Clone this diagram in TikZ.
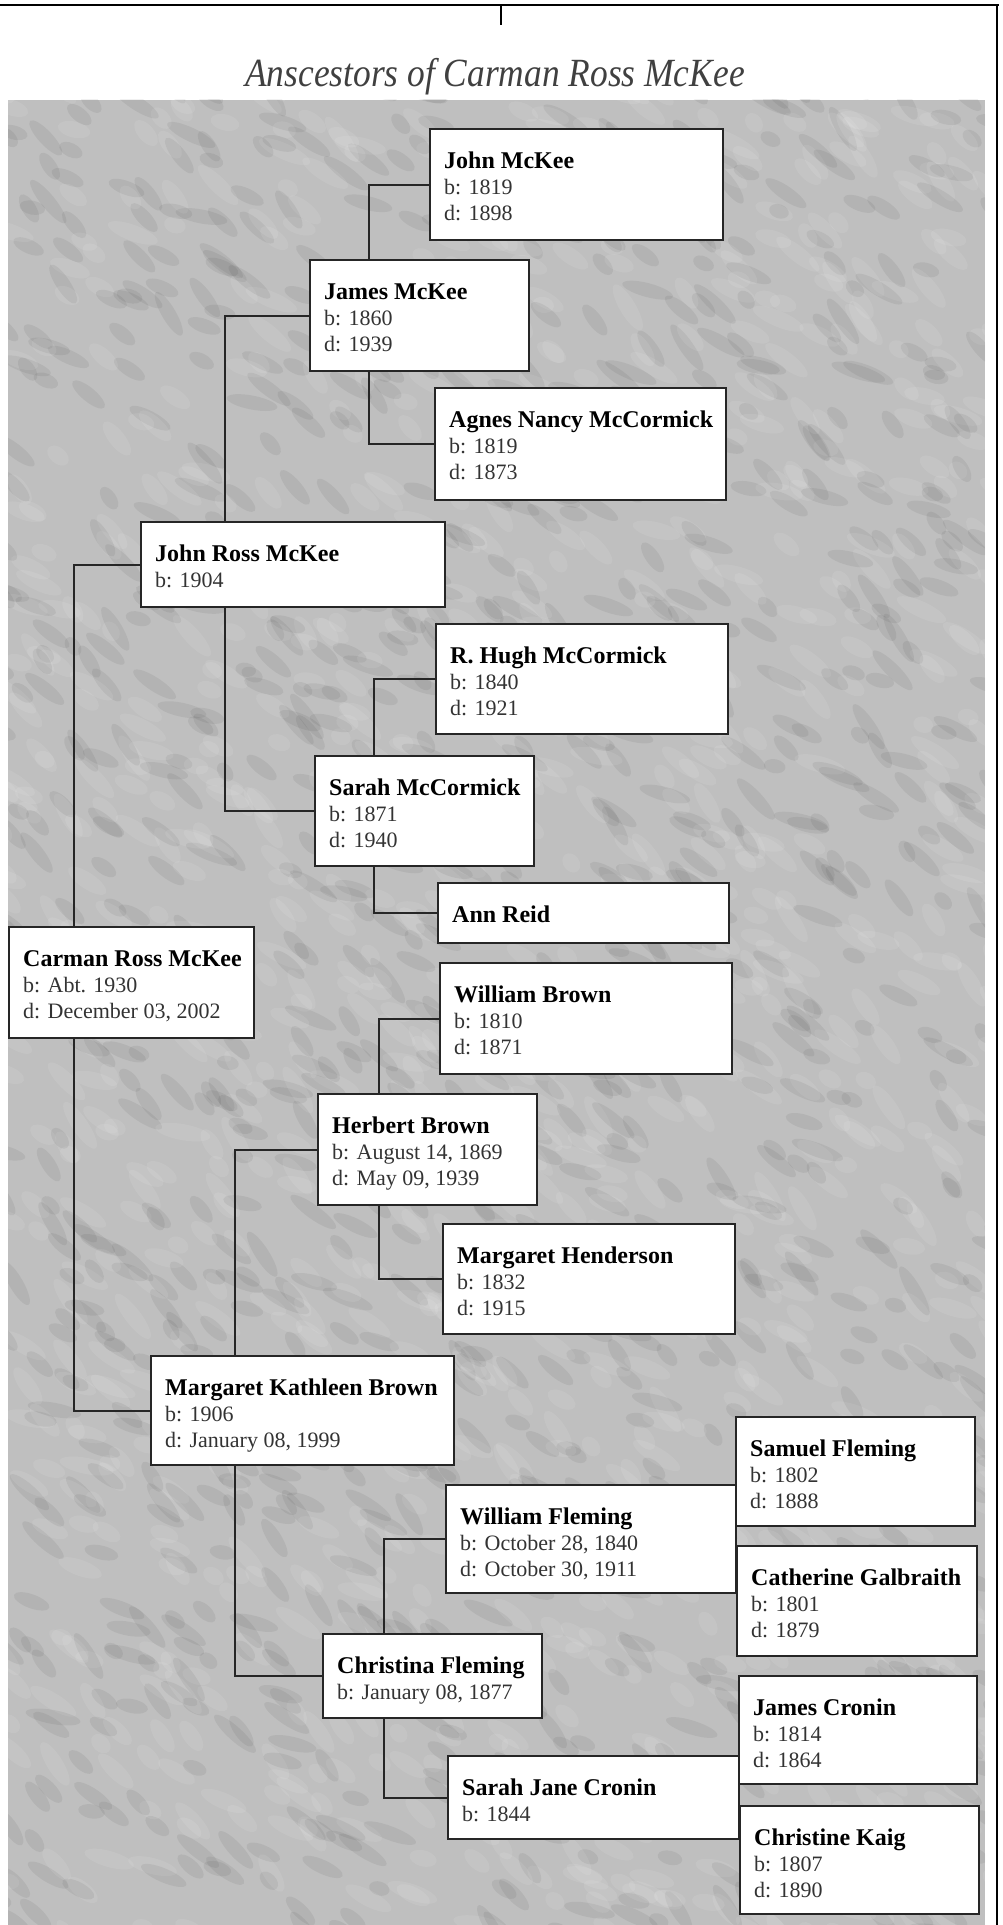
\documentclass[tikz,border=0pt]{standalone}
\usepackage{fontspec}
\setmainfont{Liberation Serif}
\usepackage{tikz}

\newcommand{\card}[4]{%
  \parbox[t][\dimexpr#2pt/2\relax][t]{\dimexpr#1pt/2\relax}{%
    \leftskip=7pt\fontsize{11pt}{13pt}\selectfont\leavevmode\color{black!80}%
    \rule{0pt}{19.5pt}{\fontsize{12pt}{13pt}\selectfont\bfseries\color{black}#3}#4}}

\begin{document}
\begin{tikzpicture}[x=0.5pt,y=-0.5pt,
    person/.style={draw=black!85, line width=1.2pt, fill=white, anchor=north west, inner sep=0pt},
    link/.style={draw=black!85, line width=1.1pt}]
    \useasboundingbox (0,0) rectangle (1002,1925);

    \begin{scope}
        \clip (8,100) rectangle (985,1925);
        \fill[gray!50] (8,100) rectangle (985,1925);
        \pgfmathsetseed{4}
        \foreach \k in {1,...,1100}{
            \pgfmathsetmacro{\bx}{rnd*1000}
            \pgfmathsetmacro{\by}{80+rnd*1870}
            \pgfmathsetmacro{\bw}{10+rnd*18}
            \pgfmathsetmacro{\ba}{-35+rand*25}
            \fill[black, opacity=0.06, rotate around={\ba:(\bx,\by)}] (\bx,\by) ellipse [x radius=\bw, y radius=7];
            \pgfmathsetmacro{\cx}{rnd*1000}
            \pgfmathsetmacro{\cy}{80+rnd*1870}
            \fill[white, opacity=0.09, rotate around={\ba:(\cx,\cy)}] (\cx,\cy) ellipse [x radius=\bw, y radius=8];
        }
    \end{scope}

    \draw[line width=1pt] (0,5) -- (999,5);
    \draw[line width=1pt] (997,5) -- (997,1925);
    \draw[line width=0.8pt] (501,5) -- (501,25);

    \node[font=\fontsize{20pt}{24pt}\selectfont\itshape, text=black!75, anchor=base] (title) at (495,87) {\scalebox{0.885}[1]{Anscestors of Carman Ross McKee}};

    \node[person] (jmckee) at (429,128) {\card{293}{111}{John McKee}{\\b: 1819\\d: 1898}};
    \node[person] (jamesmckee) at (309,259) {\card{219}{111}{James McKee}{\\b: 1860\\d: 1939}};
    \node[person] (agnes) at (434,387) {\card{291}{112}{Agnes Nancy McCormick}{\\b: 1819\\d: 1873}};
    \node[person] (johnross) at (140,521) {\card{304}{85}{John Ross McKee}{\\b: 1904}};
    \node[person] (hugh) at (435,623) {\card{292}{110}{R. Hugh McCormick}{\\b: 1840\\d: 1921}};
    \node[person] (sarahmc) at (314,755) {\card{219}{110}{Sarah McCormick}{\\b: 1871\\d: 1940}};
    \node[person] (annreid) at (437,882) {\card{291}{60}{Ann Reid}{}};
    \node[person] (carman) at (8,926) {\card{245}{111}{Carman Ross McKee}{\\b: Abt. 1930\\d: December 03, 2002}};
    \node[person] (wbrown) at (439,962) {\card{292}{111}{William Brown}{\\b: 1810\\d: 1871}};
    \node[person] (herbert) at (317,1093) {\card{219}{111}{Herbert Brown}{\\b: August 14, 1869\\d: May 09, 1939}};
    \node[person] (mhenderson) at (442,1223) {\card{292}{110}{Margaret Henderson}{\\b: 1832\\d: 1915}};
    \node[person] (mkb) at (150,1355) {\card{303}{109}{Margaret Kathleen Brown}{\\b: 1906\\d: January 08, 1999}};
    \node[person] (samuel) at (735,1416) {\card{239}{109}{Samuel Fleming}{\\b: 1802\\d: 1888}};
    \node[person] (wfleming) at (445,1484) {\card{290}{108}{William Fleming}{\\b: October 28, 1840\\d: October 30, 1911}};
    \node[person] (catherine) at (736,1545) {\card{240}{110}{Catherine Galbraith}{\\b: 1801\\d: 1879}};
    \node[person] (christina) at (322,1633) {\card{219}{84}{Christina Fleming}{\\b: January 08, 1877}};
    \node[person] (jcronin) at (738,1675) {\card{238}{108}{James Cronin}{\\b: 1814\\d: 1864}};
    \node[person] (sjcronin) at (447,1755) {\card{291}{83}{Sarah Jane Cronin}{\\b: 1844}};
    \node[person] (ckaig) at (739,1805) {\card{239}{108}{Christine Kaig}{\\b: 1807\\d: 1890}};

    \draw[link] (johnross.west) -| ([xshift=33pt]carman.north west);
    \draw[link] (mkb.west) -| ([xshift=33pt]carman.south west);
    \draw[link] (jamesmckee.west) -| ([xshift=42.5pt]johnross.north west);
    \draw[link] (sarahmc.west) -| ([xshift=42.5pt]johnross.south west);
    \draw[link] (jmckee.west) -| ([xshift=30pt]jamesmckee.north west);
    \draw[link] (agnes.west) -| ([xshift=30pt]jamesmckee.south west);
    \draw[link] (hugh.west) -| ([xshift=30pt]sarahmc.north west);
    \draw[link] (annreid.west) -| ([xshift=30pt]sarahmc.south west);
    \draw[link] (herbert.west) -| ([xshift=42.5pt]mkb.north west);
    \draw[link] (christina.west) -| ([xshift=42.5pt]mkb.south west);
    \draw[link] (wbrown.west) -| ([xshift=31pt]herbert.north west);
    \draw[link] (mhenderson.west) -| ([xshift=31pt]herbert.south west);
    \draw[link] (wfleming.west) -| ([xshift=31pt]christina.north west);
    \draw[link] (sjcronin.west) -| ([xshift=31pt]christina.south west);
\end{tikzpicture}
\end{document}
